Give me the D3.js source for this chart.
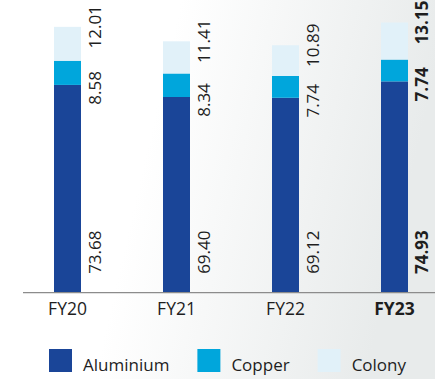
<!DOCTYPE html>
<html>
<head>
<meta charset="utf-8">
<script src="https://cdn.jsdelivr.net/npm/d3@7"></script>
<style>
  html, body { margin: 0; padding: 0; background: #fff; }
  svg { display: block; font-family: "Open Sans", "Noto Sans", sans-serif; }
</style>
</head>
<body>
<svg id="chart" width="435" height="379"></svg>
<script>
// Revenue mix by segment (₹ bn) per fiscal year
const years = ["FY20", "FY21", "FY22", "FY23"];
const aluminium = [73.68, 69.40, 69.12, 74.93];
const copper = [8.58, 8.34, 7.74, 7.74];
const colony = [12.01, 11.41, 10.89, 13.15];
const seriesNames = ["Aluminium", "Copper", "Colony"];
const highlightYear = "FY23";

const colors = { Aluminium: "#1a4598", Copper: "#00a6dc", Colony: "#e1f1f9" };

const W = 435, H = 379;
const svg = d3.select("#chart");

// soft grey wash towards the right edge
const defs = svg.append("defs");
const grad = defs.append("linearGradient").attr("id", "bg").attr("x1", "0").attr("x2", "1").attr("y1", "0").attr("y2", "0.2");
grad.append("stop").attr("offset", "0.4").attr("stop-color", "#ffffff");
grad.append("stop").attr("offset", "1").attr("stop-color", "#e8ebeb");
svg.append("rect").attr("width", W).attr("height", H).attr("fill", "url(#bg)");

const rows = years.map((y, i) => ({ year: y, Aluminium: aluminium[i], Copper: copper[i], Colony: colony[i] }));
const stacked = d3.stack().keys(seriesNames)(rows);

const x = d3.scaleBand().domain(years).range([13, 449]).padding(0);
const y = d3.scaleLinear().domain([0, 100]).range([292.7, 10.7]);
const barW = 27;
const cx = d => x(d) + x.bandwidth() / 2;

// stacked bars
svg.append("g").selectAll("g").data(stacked).join("g")
  .attr("fill", s => colors[s.key])
  .selectAll("rect").data(s => s).join("rect")
  .attr("x", d => cx(d.data.year) - barW / 2)
  .attr("width", barW)
  .attr("y", d => y(d[1]))
  .attr("height", d => y(d[0]) - y(d[1]));

// baseline
svg.append("line")
  .attr("x1", 23).attr("x2", W)
  .attr("y1", y(0)).attr("y2", y(0))
  .attr("stroke", "#8c8c8c").attr("stroke-width", 1.3);

// category axis labels
const axis = svg.append("g").attr("transform", `translate(0,${y(0)})`)
  .call(d3.axisBottom(x).tickSize(0).tickPadding(10));
axis.select(".domain").remove();
axis.selectAll("text")
  .attr("font-family", "'Open Sans', sans-serif")
  .attr("font-size", 17.5)
  .attr("fill", "#1e1e1e")
  .attr("font-weight", d => d === highlightYear ? 700 : 400);

// rotated value labels beside each bar
const labelGroup = svg.append("g");
stacked.forEach(s => {
  s.forEach(d => {
    const yr = d.data.year;
    let ly;
    if (s.key === "Aluminium") ly = y(0) - 40.5;
    else if (s.key === "Copper") ly = y(d[0]) + 3;
    else ly = y(d[1]);
    labelGroup.append("text")
      .attr("transform", `translate(${cx(yr) + 33},${ly}) rotate(-90)`)
      .attr("text-anchor", "middle")
      .attr("font-size", 17)
      .attr("fill", "#1e1e1e")
      .attr("font-weight", yr === highlightYear ? 700 : 400)
      .text((d[1] - d[0]).toFixed(2));
  });
});

// legend
const legend = svg.append("g");
let lx = 49;
seriesNames.forEach(name => {
  legend.append("rect")
    .attr("x", lx).attr("y", 349)
    .attr("width", 23).attr("height", 23)
    .attr("fill", colors[name]);
  const t = legend.append("text")
    .attr("x", lx + 34).attr("y", 371)
    .attr("font-size", 17)
    .attr("fill", "#1e1e1e")
    .text(name);
  lx += 34 + t.node().getComputedTextLength() + 28;
});
</script>
</body>
</html>
